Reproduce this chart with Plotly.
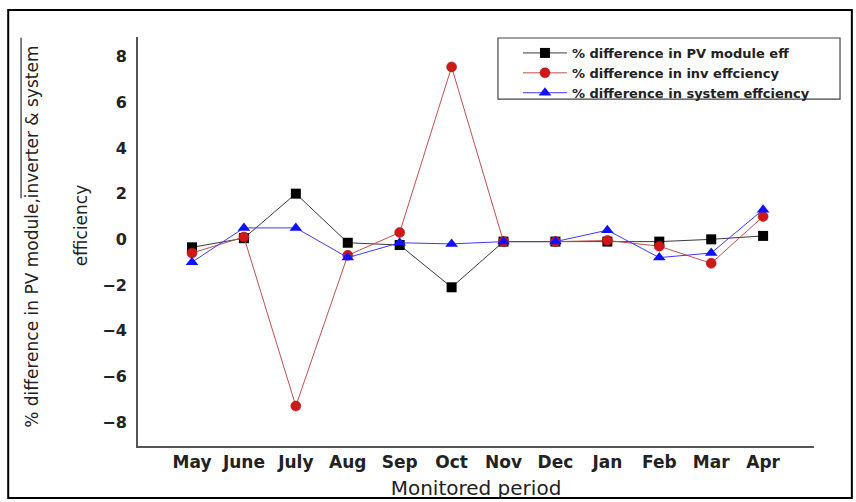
import plotly.graph_objects as go

# Monitored months and the three efficiency-difference series (%)
months = ["May", "June", "July", "Aug", "Sep", "Oct", "Nov", "Dec", "Jan", "Feb", "Mar", "Apr"]
pv_module_diff = [-0.35, 0.05, 2.0, -0.15, -0.25, -2.1, -0.1, -0.1, -0.1, -0.1, 0.0, 0.15]
inverter_diff = [-0.6, 0.1, -7.3, -0.7, 0.3, 7.55, -0.1, -0.1, -0.05, -0.3, -1.05, 1.0]
system_diff = [-1.0, 0.5, 0.5, -0.8, -0.15, -0.2, -0.1, -0.1, 0.4, -0.8, -0.6, 1.3]

series_names = [
    "% difference in PV module eff",
    "% difference in inv effciency",
    "% difference in system effciency",
]

FONT = "DejaVu Sans"
INK = "#222222"

fig = go.Figure()
fig.add_trace(go.Scatter(
    x=months, y=pv_module_diff, name=series_names[0], mode="lines+markers",
    line=dict(color="#3a3a3a", width=1),
    marker=dict(symbol="square", size=10, color="#000000"),
))
fig.add_trace(go.Scatter(
    x=months, y=inverter_diff, name=series_names[1], mode="lines+markers",
    line=dict(color="#c0504d", width=1),
    marker=dict(symbol="circle", size=10, color="#d01818", line=dict(color="#a01010", width=0.5)),
))
fig.add_trace(go.Scatter(
    x=months, y=system_diff, name=series_names[2], mode="lines+markers",
    line=dict(color="#3b3bff", width=1),
    marker=dict(symbol="triangle-up", size=11, color="#1010ff"),
))

fig.update_layout(
    width=856, height=502,
    margin=dict(l=138, r=42, t=37, b=56),
    paper_bgcolor="white", plot_bgcolor="white",
    font=dict(family=FONT, color=INK),
    showlegend=True,
    legend=dict(
        x=0.5621, y=0.9976, xanchor="left", yanchor="top",
        bgcolor="rgba(0,0,0,0)", borderwidth=0,
        itemwidth=44,
        font=dict(family=FONT, size=13, color=INK, weight="bold"),
        tracegroupgap=0,
    ),
    xaxis=dict(
        type="category", range=[-1.04, 11.98], automargin=False,
        showgrid=False, zeroline=False,
        showline=True, linecolor="#555555", linewidth=2,
        ticks="", tickfont=dict(family=FONT, size=17, color=INK, weight="bold"),
        title=dict(text="Monitored period", font=dict(family=FONT, size=20, color=INK), standoff=10),
    ),
    yaxis=dict(
        range=[-9.05, 8.86], automargin=False,
        tickvals=[-8, -6, -4, -2, 0, 2, 4, 6, 8],
        showgrid=False, zeroline=False,
        showline=True, linecolor="#555555", linewidth=2,
        ticks="", ticklabelstandoff=6,
        tickfont=dict(family=FONT, size=16, color=INK, weight="bold"),
    ),
)

# Two-line y-axis title, set as separate rotated lines
fig.add_annotation(
    text="% difference in PV module,inverter & system",
    xref="paper", yref="paper", x=-0.158, y=0.512,
    textangle=-90, showarrow=False, xanchor="center", yanchor="middle",
    font=dict(family=FONT, size=17, color=INK),
)
fig.add_annotation(
    text="efficiency",
    xref="paper", yref="paper", x=-0.084, y=0.54,
    textangle=-90, showarrow=False, xanchor="center", yanchor="middle",
    font=dict(family=FONT, size=17, color=INK),
)

# Rule above part of the first title line
fig.add_shape(type="line", xref="paper", yref="paper",
              x0=-0.173, x1=-0.173, y0=0.606, y1=0.998,
              line=dict(color="#555555", width=1.5))

# Legend frame
fig.add_shape(type="rect", xref="paper", yref="paper",
              x0=0.5325, x1=1.0385, y0=0.848, y1=0.9976,
              line=dict(color="#444444", width=1.2))

# Outer frame around the whole figure
fig.add_shape(type="rect", xref="paper", yref="paper",
              x0=-0.192, x1=1.056, y0=-0.127, y1=1.066,
              line=dict(color="#000000", width=2), layer="above")

fig.write_html("out.html")
